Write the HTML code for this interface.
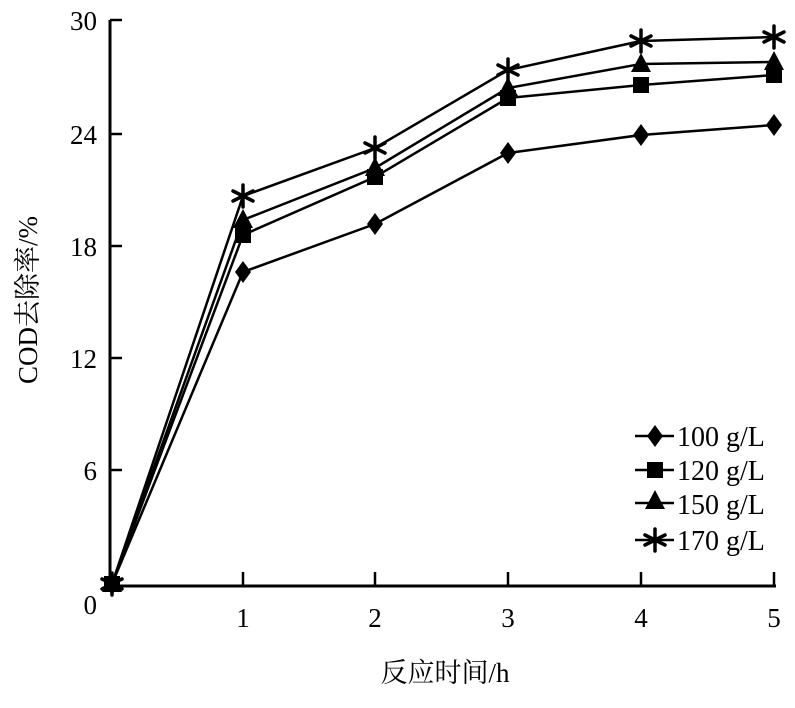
<!DOCTYPE html>
<html><head><meta charset="utf-8"><style>body{margin:0;background:#fff}svg{display:block}</style></head><body>
<svg width="795" height="708" viewBox="0 0 795 708" xmlns="http://www.w3.org/2000/svg" font-family="Liberation Serif, 'Noto Serif CJK SC', serif">
<g stroke="#000" stroke-width="3" fill="none">
<line x1="110" y1="20" x2="110" y2="587"/>
<line x1="108" y1="586" x2="776" y2="586"/>
</g>
<g stroke="#000" stroke-width="2.5">
<line x1="110" y1="20" x2="122" y2="20"/>
<line x1="110" y1="134" x2="122" y2="134"/>
<line x1="110" y1="246" x2="122" y2="246"/>
<line x1="110" y1="358" x2="122" y2="358"/>
<line x1="110" y1="470" x2="122" y2="470"/>
<line x1="243" y1="586" x2="243" y2="572"/>
<line x1="375" y1="586" x2="375" y2="572"/>
<line x1="508" y1="586" x2="508" y2="572"/>
<line x1="641" y1="586" x2="641" y2="572"/>
<line x1="774" y1="586" x2="774" y2="572"/>
</g>
<g font-size="27" text-anchor="end" fill="#000">
<text x="97" y="30">30</text><text x="97" y="144">24</text><text x="97" y="256">18</text><text x="97" y="368">12</text><text x="97" y="480">6</text><text x="97" y="614">0</text>
</g>
<g font-size="27" text-anchor="middle" fill="#000">
<text x="243" y="627">1</text><text x="375" y="627">2</text><text x="508" y="627">3</text><text x="641" y="627">4</text><text x="774" y="627">5</text>
</g>
<text x="445" y="682" font-size="27" text-anchor="middle">反应时间/h</text>
<text transform="translate(37,300) rotate(-90)" font-size="27" text-anchor="middle">COD去除率/%</text>
<defs>
<path id="dia" d="M0,-11 L8,0 L0,11 L-8,0Z"/>
<rect id="sq" x="-8" y="-8" width="16" height="16"/>
<path id="tri" d="M0,-11 L10,8 L-10,8Z"/>
<g id="star" stroke="#000" stroke-width="3.5" stroke-linecap="round"><line x1="0" y1="-11" x2="0" y2="11"/><line x1="-10" y1="-5" x2="10" y2="5"/><line x1="-10" y1="5" x2="10" y2="-5"/></g>
</defs>
<g fill="none" stroke="#000" stroke-width="2.5">
<polyline points="112,584 243,272 375,224 508,153 641,135 774,125"/>
<polyline points="112,584 243,235 375,177 508,98 641,85 774,75"/>
<polyline points="112,584 243,220 375,168 508,88 641,64 774,62"/>
<polyline points="112,584 243,196 375,148 508,70 641,41 774,37"/>
</g>
<g fill="#000">
<use href="#dia" x="112" y="584"/><use href="#dia" x="243" y="272"/><use href="#dia" x="375" y="224"/><use href="#dia" x="508" y="153"/><use href="#dia" x="641" y="135"/><use href="#dia" x="774" y="125"/>
<use href="#sq" x="112" y="584"/><use href="#sq" x="243" y="235"/><use href="#sq" x="375" y="177"/><use href="#sq" x="508" y="98"/><use href="#sq" x="641" y="85"/><use href="#sq" x="774" y="75"/>
<use href="#tri" x="112" y="584"/><use href="#tri" x="243" y="220"/><use href="#tri" x="375" y="168"/><use href="#tri" x="508" y="88"/><use href="#tri" x="641" y="64"/><use href="#tri" x="774" y="62"/>
<use href="#star" x="112" y="584"/><use href="#star" x="243" y="196"/><use href="#star" x="375" y="148"/><use href="#star" x="508" y="70"/><use href="#star" x="641" y="41"/><use href="#star" x="774" y="37"/>
</g>
<g stroke="#000" stroke-width="2.5">
<line x1="635" y1="436" x2="674" y2="436"/>
<line x1="635" y1="470" x2="674" y2="470"/>
<line x1="635" y1="503" x2="674" y2="503"/>
<line x1="635" y1="540" x2="674" y2="540"/>
</g>
<g fill="#000">
<use href="#dia" x="655" y="436"/><use href="#sq" x="655" y="470"/><use href="#tri" x="655" y="501"/><use href="#star" x="655" y="540"/>
</g>
<g font-size="28" fill="#000">
<text x="677" y="446">100 g/L</text><text x="677" y="480">120 g/L</text><text x="677" y="514">150 g/L</text><text x="677" y="550">170 g/L</text>
</g>
</svg>
</body></html>
